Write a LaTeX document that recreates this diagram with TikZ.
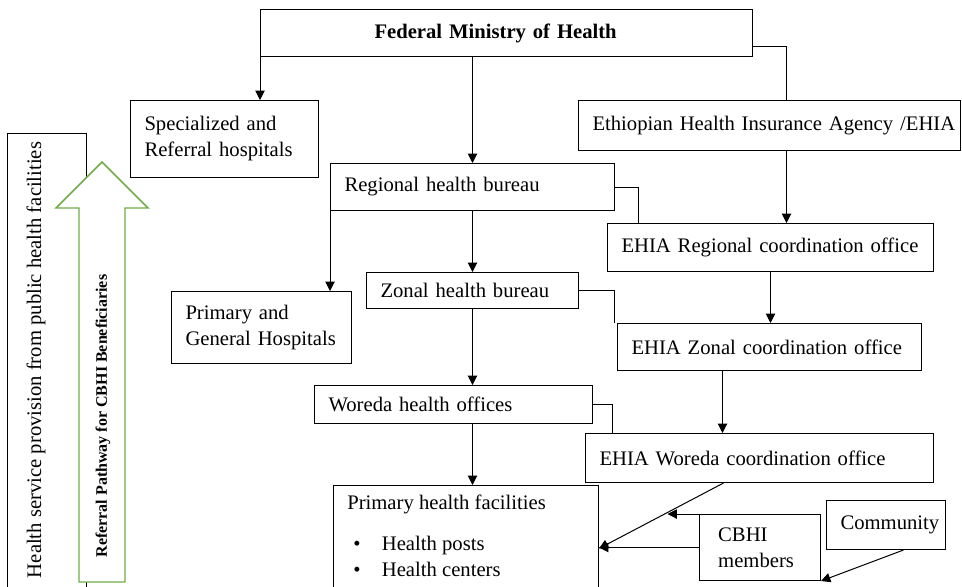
\documentclass[tikz,border=0pt]{standalone}
\usepackage{fontspec}
\setmainfont{Liberation Serif}
\usetikzlibrary{arrows.meta}
\definecolor{refgreen}{RGB}{112,173,71}

\begin{document}
\begin{tikzpicture}[x=0.75pt, y=-0.75pt,
        font=\fontsize{15.5}{19.5}\selectfont,
        box/.style={draw, line width=0.75pt, anchor=north west, inner xsep=10.5pt, align=left},
        frame/.style={draw, line width=0.75pt, anchor=north west, inner sep=0pt},
        conn/.style={black, line width=0.75pt},
        arr/.style={conn, -{Triangle[length=7pt, width=7pt]}}]

            \useasboundingbox (0,0) rectangle (962,586);
            \clip (0,0) rectangle (962,586);

            \node[box, text width=348pt, minimum height=35.25pt] (fmoh) at (260,9) {\hspace*{75pt}\textbf{Federal Ministry of Health}};
            \node[box, text width=120pt, minimum height=57.75pt] (spec) at (130,100) {Specialized and\\Referral hospitals\par\vspace{5pt}};
            \node[box, text width=265.5pt, minimum height=37.5pt] (ehia) at (578,100) {\mbox{Ethiopian Health Insurance Agency /EHIA}\par\vspace{5pt}};
            \node[box, text width=192pt, minimum height=35.25pt] (regb) at (330,163) {Regional health bureau};
            \node[box, text width=223.5pt, minimum height=36pt] (ehreg) at (607,223) {EHIA Regional coordination office};
            \node[box, text width=138pt, minimum height=27pt] (zonb) at (366,272) {Zonal health bureau};
            \node[box, text width=114pt, minimum height=54pt] (prim) at (171,291) {Primary and\\General Hospitals\par\vspace{5pt}};
            \node[box, text width=207pt, minimum height=35.25pt] (ehzon) at (617,323) {EHIA Zonal coordination office};
            \node[box, text width=187.5pt, minimum height=28.5pt] (wore) at (314,385) {Woreda health offices};
            \node[box, text width=240pt, minimum height=36.75pt] (ehwor) at (585,433) {EHIA Woreda coordination office};
            \node[frame, minimum width=198.75pt, minimum height=94.5pt] (phf) at (333,485) {};
            \node[anchor=north west, align=left, inner sep=0pt] (phftxt) at (347,495) {Primary health facilities\\[11.25pt]\hspace*{4.5pt}\textbullet\hspace{16pt}Health posts\\\hspace*{4.5pt}\textbullet\hspace{16pt}Health centers};
            \node[box, inner xsep=14pt, text width=62.75pt, minimum height=49.5pt] (cbhi) at (699,514) {CBHI\\members};
            \node[box, align=center, text width=68.25pt, minimum height=36.75pt] (comm) at (826,500) {Community\par\vspace{4pt}};

            \node[frame, minimum width=59.25pt, minimum height=350.25pt] (hsp) at (7,133) {};
            \node[rotate=90] (hsptxt) at (36,360) {Health service provision from public health facilities};
            \draw[refgreen, fill=white, line width=1.1pt] (79,582) -- (79,208) -- (56,208) -- (102,162) -- (148,208) -- (125,208) -- (125,582) -- cycle;
            \node[rotate=90, font=\fontsize{12}{14}\selectfont\bfseries] (reftxt) at (103,416) {Referral Pathway for CBHI Beneficiaries};

            \draw[arr] (fmoh.west) -- (fmoh.west |- spec.north);
            \draw[arr] (fmoh.south -| regb.north) -- (regb.north);
            \draw[conn] ([yshift=8.25pt]fmoh.south east) -| ([xshift=12.75pt]ehia.north);
            \draw[arr] ([xshift=12.75pt]ehia.south) -- ([xshift=12.75pt]ehia.south |- ehreg.north);
            \draw[conn] (regb.east) -| ([xshift=23.25pt]ehreg.north west);
            \draw[arr] (regb.south) -- (zonb.north);
            \draw[arr] (regb.south west) -- (regb.south west |- prim.north);
            \draw[arr] (ehreg.south) -- (ehreg.south |- ehzon.north);
            \draw[conn] (zonb.east) -| ([xshift=-2.25pt]ehzon.north west);
            \draw[arr] (zonb.south) -- (zonb.south |- wore.north);
            \draw[arr] ([xshift=-35.25pt]ehzon.south) -- ([xshift=-35.25pt]ehzon.south |- ehwor.north);
            \draw[conn] (wore.east) -| ([xshift=20.25pt]ehwor.north west);
            \draw[arr] (zonb.south |- wore.south) -- (zonb.south |- phf.north);
            \draw[arr] ([xshift=-27pt]ehwor.south) -- coordinate[pos=0.45] (split) (phf.east);
            \draw[arr] (cbhi.north) -- (cbhi.north -| split);
            \draw[arr] (cbhi.west) -- (cbhi.west -| phf.east);
            \draw[arr] ([xshift=13.125pt]comm.south) -- (cbhi.south east);

        \end{tikzpicture}
\end{document}
